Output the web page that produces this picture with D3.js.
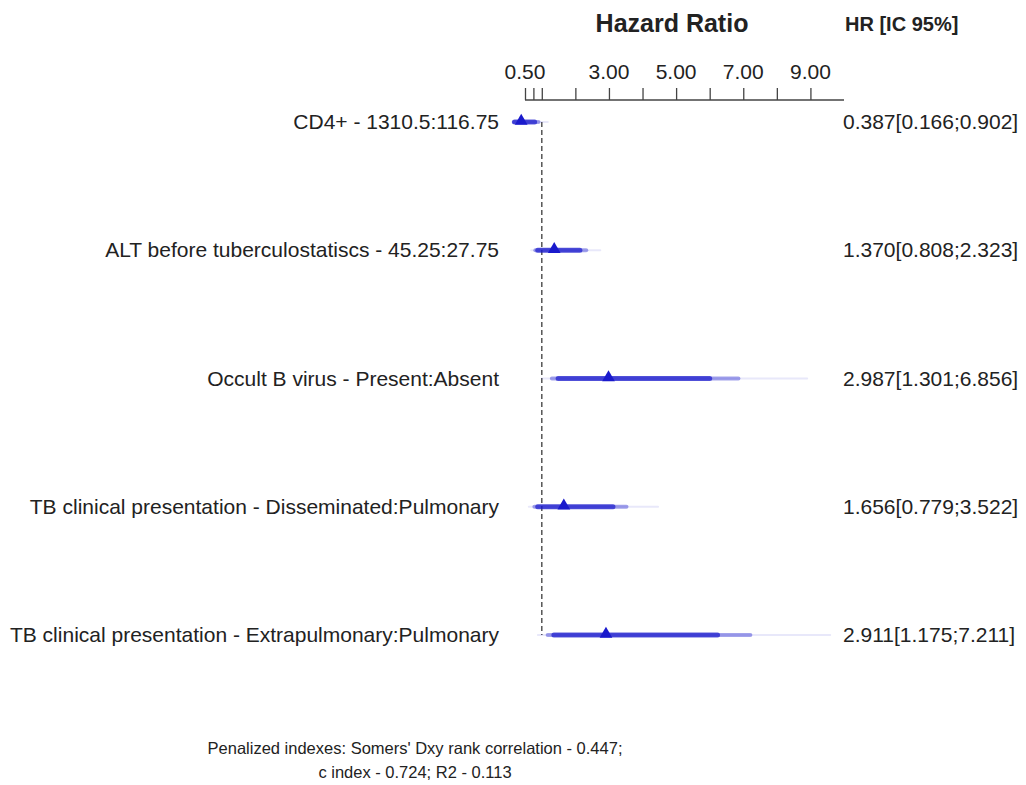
<!DOCTYPE html>
<html>
<head>
<meta charset="utf-8">
<script src="https://cdn.jsdelivr.net/npm/d3@7"></script>
<style>
  body { margin: 0; background: #fff; }
  text { font-family: "Liberation Sans", Arial, sans-serif; fill: #222; }
</style>
</head>
<body>
<div id="viz"></div>
<script>
// rows of the forest plot (hazard ratio + intervals)
const labels = [
  "CD4+ - 1310.5:116.75",
  "ALT before tuberculostatiscs - 45.25:27.75",
  "Occult B virus - Present:Absent",
  "TB clinical presentation - Disseminated:Pulmonary",
  "TB clinical presentation - Extrapulmonary:Pulmonary"
]
const hr    = [0.387, 1.370, 2.987, 1.656, 2.911]
const lo95  = [0.166, 0.808, 1.301, 0.779, 1.175]
const hi95  = [0.902, 2.323, 6.856, 3.522, 7.211]
const lo90  = [0.190, 0.880, 1.487, 0.879, 1.360]
const hi90  = [0.787, 2.134, 6.000, 3.119, 6.233]
const lo99  = [0.127, 0.684, 1.002, 0.614, 0.884]
const hi99  = [1.177, 2.742, 8.904, 4.463, 9.589]

const tick_values = [0.5, 0.75, 1, 2, 3, 4, 5, 6, 7, 8, 9]
const tick_labels = [0.5, 3, 5, 7, 9]
const footer = [
  "Penalized indexes: Somers' Dxy rank correlation - 0.447;",
  "c index - 0.724; R2 - 0.113"
]

const LAYOUT = {
  width: 1026,
  height: 785,
  axis_y: 100,
  first_row: 122,
  last_row: 635,
  label_right: 499,
  hr_left: 843
}

const BAR_COLOR = "rgb(26,26,204)"

const svg = d3.select("#viz").append("svg")
  .attr("width", LAYOUT.width)
  .attr("height", LAYOUT.height)

const x = d3.scaleLinear().domain([0.5, 10]).range([525, 844])
const y = d3.scalePoint().domain(d3.range(labels.length))
  .range([LAYOUT.first_row, LAYOUT.last_row])

// titles
svg.append("text")
  .attr("x", 672).attr("y", 32)
  .attr("text-anchor", "middle")
  .style("font-size", "25px").style("font-weight", "bold")
  .text("Hazard Ratio")

svg.append("text")
  .attr("x", 845).attr("y", 31)
  .style("font-size", "20px").style("font-weight", "bold")
  .text("HR [IC 95%]")

// top axis
const axis = d3.axisTop(x)
  .tickValues(tick_values)
  .tickSize(12)
  .tickFormat("")
const gAxis = svg.append("g")
  .attr("transform", `translate(0,${LAYOUT.axis_y})`)
  .call(axis)
gAxis.select(".domain").attr("d", `M${x(0.5)},0H${x(10)}`).attr("stroke", "#444").attr("stroke-width", 1.3)
gAxis.selectAll(".tick line").attr("stroke", "#444").attr("stroke-width", 1.3)

svg.append("g").selectAll("text")
  .data(tick_labels)
  .join("text")
  .attr("x", d => x(d))
  .attr("y", 79)
  .attr("text-anchor", "middle")
  .style("font-size", "21px")
  .text(d => d.toFixed(2))

// reference line at HR = 1
svg.append("line")
  .attr("x1", x(1)).attr("x2", x(1))
  .attr("y1", LAYOUT.first_row).attr("y2", LAYOUT.last_row)
  .attr("stroke", "#555")
  .attr("stroke-width", 1.5)
  .attr("stroke-dasharray", "5,3")

const rows = svg.append("g").selectAll("g")
  .data(labels.map((l, i) => i))
  .join("g")
  .attr("transform", i => `translate(0,${y(i)})`)

// 99%, 95%, 90% bars
const levels = [
  { lo: lo99, hi: hi99, w: 2, a: 0.1 },
  { lo: lo95, hi: hi95, w: 4, a: 0.4 },
  { lo: lo90, hi: hi90, w: 5, a: 0.7 }
]
levels.forEach(lv => {
  rows.append("line")
    .attr("x1", i => x(lv.lo[i]))
    .attr("x2", i => x(lv.hi[i]))
    .attr("stroke", BAR_COLOR)
    .attr("stroke-opacity", lv.a)
    .attr("stroke-width", lv.w)
    .attr("stroke-linecap", "round")
})

rows.append("path")
  .attr("d", d3.symbol(d3.symbolTriangle, 70))
  .attr("transform", i => `translate(${x(hr[i])},-1)`)
  .attr("fill", BAR_COLOR)

rows.append("text")
  .attr("x", LAYOUT.label_right)
  .attr("y", 7)
  .attr("text-anchor", "end")
  .style("font-size", "21px")
  .text(i => labels[i])

rows.append("text")
  .attr("x", LAYOUT.hr_left)
  .attr("y", 7)
  .style("font-size", "21px")
  .text(i => `${hr[i].toFixed(3)}[${lo95[i].toFixed(3)};${hi95[i].toFixed(3)}]`)

svg.append("g").selectAll("text")
  .data(footer)
  .join("text")
  .attr("x", 415)
  .attr("y", (d, i) => 754 + i * 24)
  .attr("text-anchor", "middle")
  .style("font-size", "16.5px")
  .text(d => d)
</script>
</body>
</html>
